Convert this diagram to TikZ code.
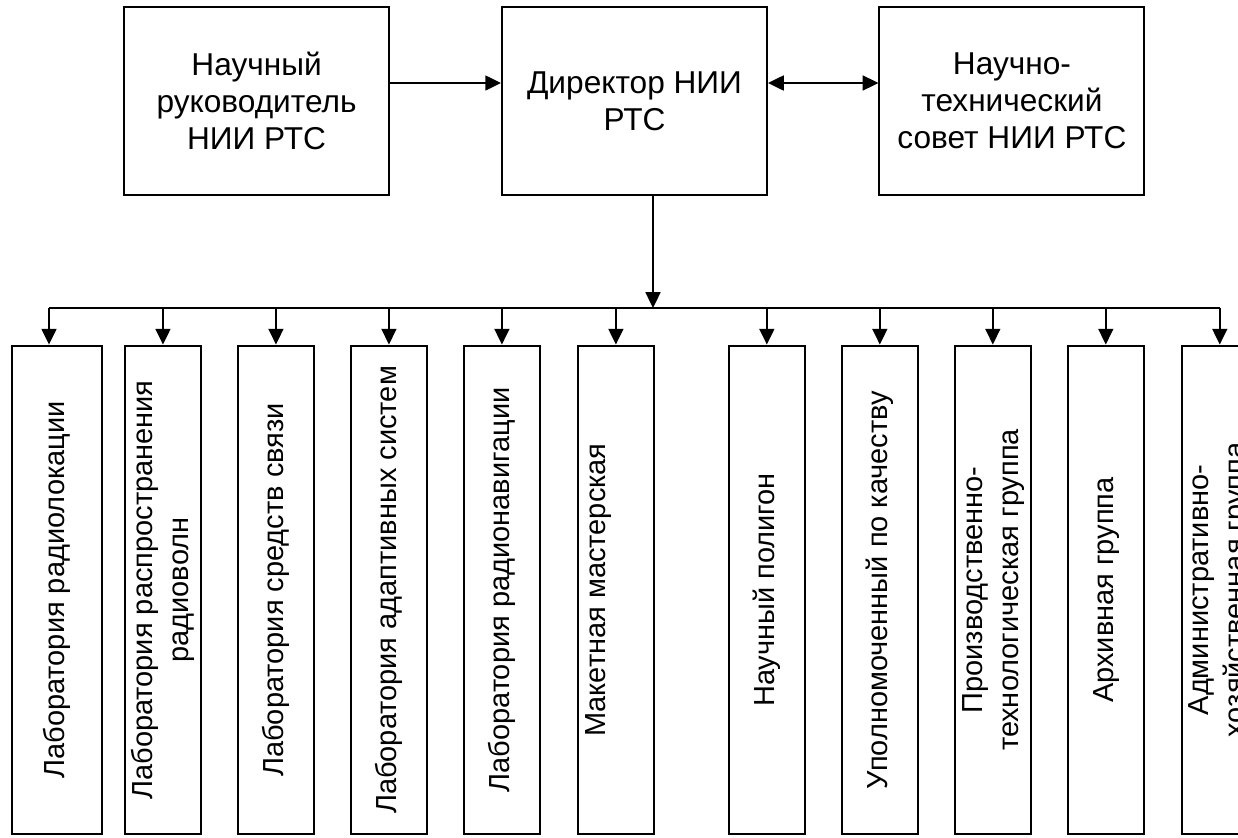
\documentclass[tikz,border=0pt]{standalone}
\usepackage{fontspec}
\setmainfont{Liberation Sans}
\usetikzlibrary{arrows.meta,positioning}

\newcommand{\vtxt}[1]{\rotatebox{90}{\begin{tabular}{@{}c@{}}#1\end{tabular}}}

\begin{document}
\begin{tikzpicture}[x=0.02cm, y=-0.02cm, line width=1.1pt, >={Triangle[length=9pt,width=8.5pt]}, node distance=7.56cm, on grid]

	\tikzset{
		topbox/.style = {rectangle, draw, minimum width=5.3cm,
			minimum height=3.76cm, align=center, inner sep=0pt,
			font=\fontsize{18}{21}\selectfont},
		labbox/.style = {rectangle, draw, minimum width=1.52cm,
			minimum height=9.78cm, inner sep=0pt,
			font=\fontsize{16.5}{20.5}\selectfont}
	}

	\useasboundingbox (0,0) rectangle (1238,838);
	\clip (0,0) rectangle (1238,838);

	\node[topbox] (dir) at (634.5,101) {Директор НИИ\\РТС};
	\node[topbox] (ruk) [left = of dir] {Научный\\руководитель\\НИИ РТС};
	\node[topbox] (sov) [right = 7.55cm of dir] {Научно-\\технический\\совет НИИ РТС};

	\node[labbox, minimum width=1.8cm] (lab1) at (57,590) {\vtxt{Лаборатория радиолокации}};
	\node[labbox] (lab2) [right = 2.12cm of lab1] {\vtxt{Лаборатория распространения\\радиоволн}};
	\node[labbox] (lab3) [right = 2.26cm of lab2] {\vtxt{Лаборатория средств связи}};
	\node[labbox] (lab4) [right = 2.26cm of lab3] {\vtxt{Лаборатория адаптивных систем}};
	\node[labbox] (lab5) [right = 2.26cm of lab4] {\vtxt{Лаборатория радионавигации}};
	\node[labbox] (lab6) [right = 2.28cm of lab5] {\vtxt{Макетная мастерская\\ \mbox{}}};
	\node[labbox] (lab7) [right = 3.02cm of lab6] {\vtxt{Научный полигон}};
	\node[labbox] (lab8) [right = 2.26cm of lab7] {\vtxt{Уполномоченный по качеству}};
	\node[labbox] (lab9) [right = 2.26cm of lab8] {\vtxt{Производственно-\\технологическая группа}};
	\node[labbox] (lab10) [right = 2.26cm of lab9] {\vtxt{Архивная группа}};
	\node[labbox] (lab11) [right = 2.28cm of lab10] {\vtxt{Административно-\\хозяйственная группа}};

	\coordinate (bus) at (653,308);

	\draw[->] ([yshift=0.36cm]ruk.east) -- ([yshift=0.36cm]dir.west);
	\draw[<->] ([yshift=0.36cm]dir.east) -- ([yshift=0.36cm]sov.west);
	\draw[->] (dir.south -| bus) -- (bus);

	\draw ([xshift=-0.16cm]lab1.north |- bus) -- (lab11.north |- bus);

	\path[->]
	([xshift=-0.16cm]lab1.north |- bus) edge ([xshift=-0.16cm]lab1.north)
	(lab2.north |- bus) edge (lab2.north)
	(lab3.north |- bus) edge (lab3.north)
	(lab4.north |- bus) edge (lab4.north)
	(lab5.north |- bus) edge (lab5.north)
	(lab6.north |- bus) edge (lab6.north)
	(lab7.north |- bus) edge (lab7.north)
	(lab8.north |- bus) edge (lab8.north)
	(lab9.north |- bus) edge (lab9.north)
	(lab10.north |- bus) edge (lab10.north)
	(lab11.north |- bus) edge (lab11.north)
	;

\end{tikzpicture}
\end{document}
